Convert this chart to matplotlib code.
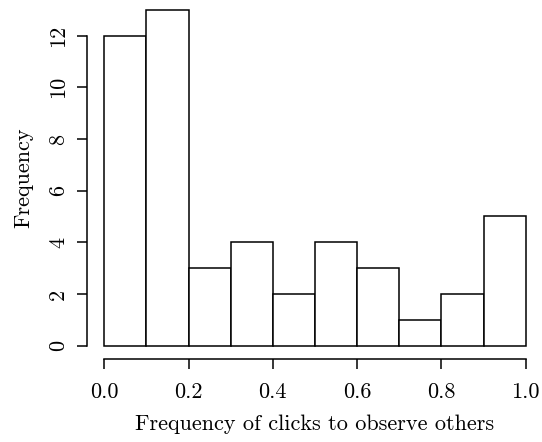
import matplotlib
matplotlib.use("Agg")
import matplotlib.pyplot as plt

# histogram of click frequencies
bin_edges = [0.0, 0.1, 0.2, 0.3, 0.4, 0.5, 0.6, 0.7, 0.8, 0.9, 1.0]
counts = [12, 13, 3, 4, 2, 4, 3, 1, 2, 5]
x_ticks = [0.0, 0.2, 0.4, 0.6, 0.8, 1.0]
x_tick_labels = ["0.0", "0.2", "0.4", "0.6", "0.8", "1.0"]
y_ticks = [0, 2, 4, 6, 8, 10, 12]
y_tick_labels = ["0", "2", "4", "6", "8", "10", "12"]

plt.rcParams["font.family"] = "cmr10"
plt.rcParams["mathtext.fontset"] = "cm"
plt.rcParams["axes.formatter.use_mathtext"] = True

fig = plt.figure(figsize=(5.42, 4.42), dpi=100)
ax = fig.add_axes([0.1613, 0.1876, 0.8397, 0.8206])

widths = [bin_edges[i + 1] - bin_edges[i] for i in range(len(counts))]
ax.bar(bin_edges[:-1], counts, width=widths, align="edge",
       color="white", edgecolor="black", linewidth=1.1)

ax.set_xlim(-0.04, 1.04)
ax.set_ylim(-0.52, 13.52)

for side in ["top", "right"]:
    ax.spines[side].set_visible(False)
ax.spines["left"].set_bounds(0, 12)
ax.spines["bottom"].set_bounds(0, 1)
ax.spines["left"].set_linewidth(1.1)
ax.spines["bottom"].set_linewidth(1.1)

ax.set_xticks(x_ticks)
ax.set_xticklabels(x_tick_labels)
ax.set_yticks(y_ticks)
ax.set_yticklabels(y_tick_labels, rotation=90, va="center")
ax.tick_params(length=7, width=1.1, labelsize=16, pad=7)
ax.tick_params(axis="x", pad=10)

ax.set_xlabel("Frequency of clicks to observe others", fontsize=16, labelpad=9)
ax.set_ylabel("Frequency", fontsize=16, labelpad=11)

fig.savefig("out.png", dpi=100)
